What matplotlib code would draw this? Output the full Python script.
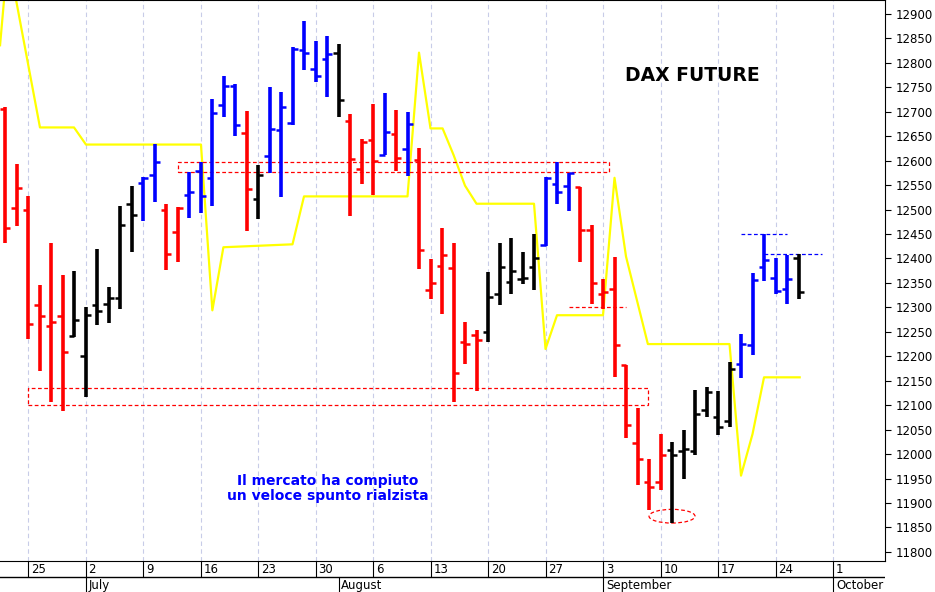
import numpy as np
import matplotlib.pyplot as plt
from matplotlib.patches import Rectangle, Ellipse

# daily bars, index 0 = 21 June 2018
opens = [12705, 12504, 12499, 12304, 12261, 12282, 12242, 12201, 12305, 12307,
         12319, 12512, 12554, 12570, 12500, 12454, 12529, 12578, 12564, 12713,
         12753, 12656, 12521, 12610, 12663, 12678, 12827, 12787, 12807, 12821,
         12682, 12583, 12643, 12612, 12655, 12624, 12601, 12336, 12385, 12381,
         12230, 12243, 12249, 12328, 12351, 12359, 12382, 12427, 12552, 12549,
         12547, 12459, 12328, 12338, 12182, 12022, 11942, 11942, 12009, 12006,
         12006, 12091, 12076, 12068, 12184, 12223, 12382, 12361, 12338, 12400]
highs = [12709, 12593, 12527, 12346, 12431, 12367, 12375, 12300, 12419, 12342,
         12508, 12548, 12566, 12635, 12512, 12506, 12576, 12598, 12727, 12774,
         12757, 12701, 12591, 12750, 12741, 12832, 12885, 12845, 12855, 12838,
         12695, 12645, 12715, 12738, 12703, 12699, 12626, 12398, 12462, 12431,
         12271, 12253, 12373, 12431, 12441, 12413, 12450, 12566, 12598, 12575,
         12547, 12469, 12359, 12404, 12182, 12095, 11991, 12041, 12025, 12050,
         12132, 12137, 12130, 12188, 12245, 12371, 12450, 12400, 12408, 12410]
lows = [12431, 12467, 12236, 12170, 12107, 12089, 12240, 12117, 12263, 12269,
        12296, 12413, 12476, 12516, 12377, 12392, 12483, 12493, 12508, 12689,
        12651, 12456, 12480, 12574, 12526, 12672, 12786, 12760, 12730, 12689,
        12487, 12552, 12529, 12611, 12578, 12568, 12379, 12317, 12287, 12107,
        12184, 12130, 12230, 12305, 12328, 12348, 12336, 12426, 12512, 12497,
        12392, 12307, 12297, 12157, 12033, 11937, 11885, 11927, 11859, 11950,
        11999, 12076, 12039, 12055, 12155, 12203, 12354, 12327, 12307, 12317]
closes = [12462, 12545, 12267, 12282, 12270, 12209, 12274, 12284, 12292, 12319,
          12468, 12489, 12565, 12598, 12409, 12504, 12535, 12527, 12697, 12753,
          12672, 12543, 12571, 12664, 12709, 12828, 12821, 12774, 12818, 12724,
          12603, 12639, 12599, 12659, 12605, 12676, 12417, 12350, 12408, 12165,
          12225, 12234, 12321, 12382, 12375, 12361, 12402, 12565, 12535, 12574,
          12459, 12350, 12331, 12224, 12060, 11989, 11933, 11999, 11999, 12010,
          12082, 12126, 12056, 12174, 12226, 12356, 12396, 12334, 12359, 12332]
bar_colors = list("rrrrrrkkkkkkbbrrbbbbbrkbbbbbbkrrrbrbrrrrrrkkkkkbbbrrrrrrrrkkkkkkbbbbbk")

# yellow indicator line (index, value)
line_x = [-0.43, 0.25, 3.04, 6.0, 7.04, 17.04, 18.03, 18.99, 25.0, 26.0, 35.0,
          36.0, 37.0, 38.05, 39.0, 40.0, 41.0, 46.0, 47.0, 48.0, 52.0, 53.0,
          54.0, 55.9, 63.0, 64.0, 65.0, 66.0, 69.1]
line_y = [12836, 13018, 12668, 12668, 12633, 12633, 12294, 12423, 12429, 12527,
          12527, 12821, 12666, 12666, 12612, 12549, 12512, 12512, 12215, 12284,
          12284, 12565, 12404, 12225, 12225, 11956, 12041, 12157, 12157]

week_idx = [2, 7, 12, 17, 22, 27, 32, 37, 42, 47, 52, 57, 62, 67, 72]
week_lbl = ["25", "2", "9", "16", "23", "30", "6", "13", "20", "27", "3", "10", "17", "24", "1"]
month_idx = [7, 29, 52, 72]
month_lbl = ["July", "August", "September", "October"]

cmap = {"r": "#ff0000", "b": "#0000ff", "k": "#000000"}

fig = plt.figure(figsize=(9.35, 5.92), dpi=100)
ax = fig.add_axes([0, 31 / 592, 885 / 935, 561 / 592])
XL = (-0.435, 76.52)
ax.set_xlim(*XL)
ax.set_ylim(11781.4, 12928.6)

for i in week_idx:
    ax.axvline(i, color="#c8cce8", lw=0.8, ls=(0, (4, 3)), zorder=0)

ax.plot(line_x, line_y, color="#ffff00", lw=1.6, zorder=1)

idx = np.arange(len(opens))
cols = [cmap[c] for c in bar_colors]
ax.vlines(idx, lows, highs, colors=cols, lw=2.6, zorder=3)
ax.hlines(opens, idx - 0.45, idx, colors=cols, lw=1.8, zorder=3)
ax.hlines(closes, idx, idx + 0.45, colors=cols, lw=1.8, zorder=3)

# support / resistance marks
ax.add_patch(Rectangle((15.0, 12576), 37.5, 21, fill=False, ec="#ff0000", ls=(0, (3, 2)), lw=0.9, zorder=2))
ax.add_patch(Rectangle((2.0, 12100), 53.9, 35, fill=False, ec="#ff0000", ls=(0, (3, 2)), lw=0.9, zorder=2))
ax.hlines(12300, 49.0, 54.0, colors="#ff0000", ls=(0, (3, 2)), lw=0.9)
ax.hlines(12450, 64.0, 68.0, colors="#0000ff", ls=(0, (3, 2)), lw=0.9)
ax.hlines(12410, 66.0, 71.0, colors="#0000ff", ls=(0, (3, 2)), lw=0.9)
ax.add_patch(Ellipse((58.0, 11873), 4.0, 28, fill=False, ec="#ff0000", ls=(0, (3, 2)), lw=0.9))

ax.text(59.8, 12775, "DAX FUTURE", fontsize=13.5, fontweight="bold", ha="center", va="center")
ax.text(28.1, 11930, "Il mercato ha compiuto\nun veloce spunto rialzista", fontsize=10,
        fontweight="bold", color="#0000ff", ha="center", va="center", linespacing=1.15)

ax.yaxis.tick_right()
ax.set_yticks(np.arange(11800, 12901, 50))
ax.tick_params(axis="y", labelsize=8.5, length=4, direction="out")
ax.set_xticks([])
for s in ax.spines.values():
    s.set_color("black")
ax.spines["left"].set_visible(False)

# date strip
ax2 = fig.add_axes([0, 0, 885 / 935, 31 / 592])
ax2.set_xlim(*XL)
ax2.set_ylim(0, 2)
ax2.axis("off")
ax2.axhline(1.0, color="black", lw=1)
for i, t in zip(week_idx, week_lbl):
    ax2.vlines(i, 1.0, 2.0, colors="black", lw=0.8)
    ax2.text(i + 0.25, 1.45, t, fontsize=8.5, va="center", ha="left")
for i, t in zip(month_idx, month_lbl):
    ax2.vlines(i, 0, 1.0, colors="black", lw=0.8)
    ax2.text(i + 0.25, 0.45, t, fontsize=8.5, va="center", ha="left")

fig.savefig("out.png", dpi=100)
